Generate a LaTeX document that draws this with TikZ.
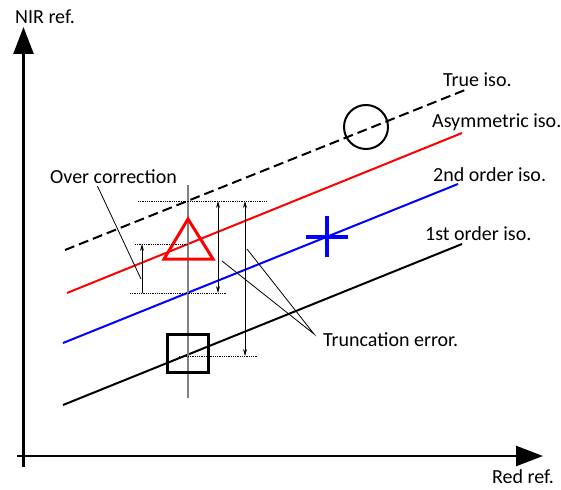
\documentclass[tikz,border=0pt]{standalone}
\usepackage{fontspec}
\setmainfont{Carlito}
\usetikzlibrary{arrows.meta, positioning}

\begin{document}
\begin{tikzpicture}[
x=1pt, y=-1pt,
font=\fontsize{20}{24}\selectfont,
every node/.style={inner sep=0pt},
axis/.style={line width=2.5pt, -{Triangle[length=27pt,width=20pt]}},
iso/.style={line width=2pt},
guide/.style={densely dotted, line width=0.8pt},
dim/.style={line width=0.8pt, {Stealth[length=7pt,width=4pt]}-{Stealth[length=7pt,width=4pt]}},
updim/.style={line width=0.8pt, -{Stealth[length=7pt,width=4pt]}},
lead/.style={line width=0.8pt}
]
\useasboundingbox (0,0) rectangle (561,489);

% axes
\coordinate (ybot) at (23.5,467);
\coordinate (ytop) at (23.5,27);
\coordinate (xleft) at (17,456);
\coordinate (xright) at (543,456);
\draw[axis] (ybot) -- (ytop);
\draw[axis] (xleft) -- (xright);
\node (nir) at (45,17) {NIR ref.};
\node (redref) at (523,477) {Red ref.};

% isolines
\draw[iso, dashed, dash pattern=on 10pt off 5pt] (65,250) -- (465,90);
\draw[iso, red] (67,293) -- (462,133);
\draw[iso, blue] (63,343) -- (458,184);
\draw[iso] (63,405) -- (462,244);

\node[anchor=west] (trueiso) at (443,80) {True iso.};
\node[anchor=west] (asymiso) at (432,122) {Asymmetric iso.};
\node[anchor=west] (seciso) at (433,175) {2nd order iso.};
\node[anchor=west] (firstiso) at (425,234) {1st order iso.};

% vertical cut
\draw[gray, line width=2pt] (188,185) -- (188,398);

% markers
\node[draw, circle, line width=2pt, minimum size=44pt] (circ) at (366,127) {};
\draw[red, line width=3pt] (188,219) -- (213,259) -- (164,259) -- cycle;
\node[draw, line width=2.5pt, minimum width=41pt, minimum height=38pt] (sq) at (188,353.5) {};
\draw[blue, line width=4pt] (306,237) -- (348,237) (327,216) -- (327,257);

% guides
\draw[guide] (138,201) -- (266,201);
\draw[guide] (135,244) -- (188,244);
\draw[guide] (130,293) -- (227,293);
\draw[guide] (179,356) -- (257,356);

% errors
\draw[updim] (142,293) -- (142,244);
\draw[dim] (218,201) -- (218,293);
\draw[dim] (245,201) -- (245,356);

\node (over) at (113.5,177) {Over correction};
\coordinate (overtip) at (141,279);
\draw[lead] ([xshift=-16pt,yshift=-2pt]over.south) -- (overtip);

\node[anchor=west] (trunc) at (323,340) {Truncation error.};
\coordinate (tjoin) at (314,334);
\coordinate (ta) at (222,261);
\coordinate (tb) at (247,249);
\draw[lead] (ta) -- (tjoin) -- (tb);

\end{tikzpicture}
\end{document}
